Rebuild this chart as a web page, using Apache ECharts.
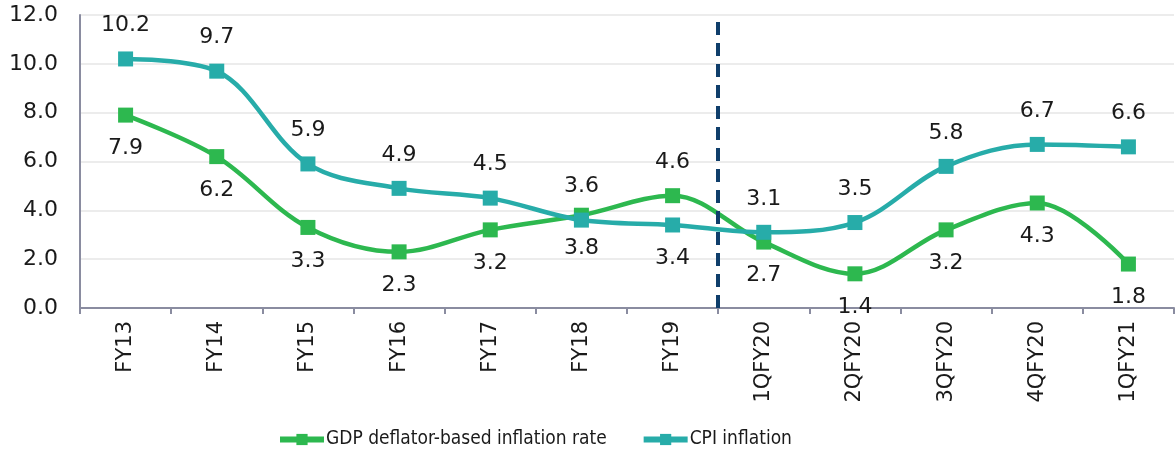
<!DOCTYPE html>
<html>
<head>
<meta charset="utf-8">
<script src="https://cdn.jsdelivr.net/npm/echarts@6/dist/echarts.min.js"></script>
<style>
  html, body { margin: 0; padding: 0; background: #fff; }
  #chart { width: 1176px; height: 450px; }
</style>
</head>
<body>
<div id="chart"></div>
<script>
const categories = ["FY13", "FY14", "FY15", "FY16", "FY17", "FY18", "FY19", "1QFY20", "2QFY20", "3QFY20", "4QFY20", "1QFY21"];
const gdpDeflator = [7.9, 6.2, 3.3, 2.3, 3.2, 3.8, 4.6, 2.7, 1.4, 3.2, 4.3, 1.8];
const cpiInflation = [10.2, 9.7, 5.9, 4.9, 4.5, 3.6, 3.4, 3.1, 3.5, 5.8, 6.7, 6.6];
// label above (true) or below (false) per point
const gdpLabelAbove = [false, false, false, false, false, false, true, false, false, false, false, false];
const cpiLabelAbove = [true, true, true, true, true, true, false, true, true, true, true, true];
const dividerAt = 7; // boundary between FY19 and 1QFY20

const myChart = echarts.init(document.getElementById("chart"));
const font = "DejaVu Sans";

const makeData = (values, above) =>
  values.map((v, i) => ({
    value: v,
    label: { position: above[i] ? "top" : "bottom" },
  }));

const option = {
  animation: false,
  grid: { left: 80, right: 2, top: 15, bottom: 142 },
  legend: {
    top: 425,
    left: 272,
    itemWidth: 44,
    itemHeight: 14,
    itemGap: 34,
    lineStyle: { width: 6 },
    textStyle: { fontFamily: "DejaVu Sans Condensed", fontSize: 19, color: "#1a1a1a", padding: [0, 0, 0, -3] },
    data: ["GDP deflator-based inflation rate", "CPI inflation"],
  },
  xAxis: [
    {
      type: "category",
      data: categories,
      axisLine: { lineStyle: { color: "#8a8ca0", width: 2 } },
      axisTick: { show: true, length: 6, lineStyle: { color: "#8a8ca0", width: 2 } },
      axisLabel: { rotate: 90, fontFamily: font, fontSize: 21, color: "#1a1a1a", margin: 13 },
    },
    {
      type: "value",
      min: 0,
      max: 12,
      show: false,
    },
  ],
  yAxis: {
    type: "value",
    min: 0,
    max: 12,
    interval: 2,
    axisLine: { show: true, lineStyle: { color: "#8a8ca0", width: 2 } },
    axisTick: { show: false },
    splitLine: { lineStyle: { color: "#ececec", width: 2 } },
    axisLabel: {
      fontFamily: font,
      fontSize: 22,
      color: "#1a1a1a",
      margin: 22,
      formatter: (v) => v.toFixed(1),
    },
  },
  series: [
    {
      name: "GDP deflator-based inflation rate",
      type: "line",
      smooth: 0.35,
      data: makeData(gdpDeflator, gdpLabelAbove),
      symbol: "rect",
      symbolSize: 15,
      lineStyle: { color: "#2db84f", width: 4.5 },
      itemStyle: { color: "#2db84f" },
      label: {
        show: true,
        distance: 15,
        fontFamily: font,
        fontSize: 22,
        color: "#1a1a1a",
        formatter: (p) => p.value.toFixed(1),
      },
      z: 3,
    },
    {
      name: "CPI inflation",
      type: "line",
      smooth: 0.35,
      data: makeData(cpiInflation, cpiLabelAbove),
      symbol: "rect",
      symbolSize: 15,
      lineStyle: { color: "#27aca9", width: 4.5 },
      itemStyle: { color: "#27aca9" },
      label: {
        show: true,
        distance: 15,
        fontFamily: font,
        fontSize: 22,
        color: "#1a1a1a",
        formatter: (p) => p.value.toFixed(1),
      },
      z: 4,
    },
    {
      name: "divider",
      type: "line",
      xAxisIndex: 1,
      data: [],
      markLine: {
        symbol: "none",
        silent: true,
        label: { show: false },
        lineStyle: { color: "#0f3e6b", width: 4, type: [13, 8] },
        data: [{ xAxis: dividerAt }],
      },
      z: 2,
    },
  ],
};

myChart.setOption(option);
</script>
</body>
</html>
